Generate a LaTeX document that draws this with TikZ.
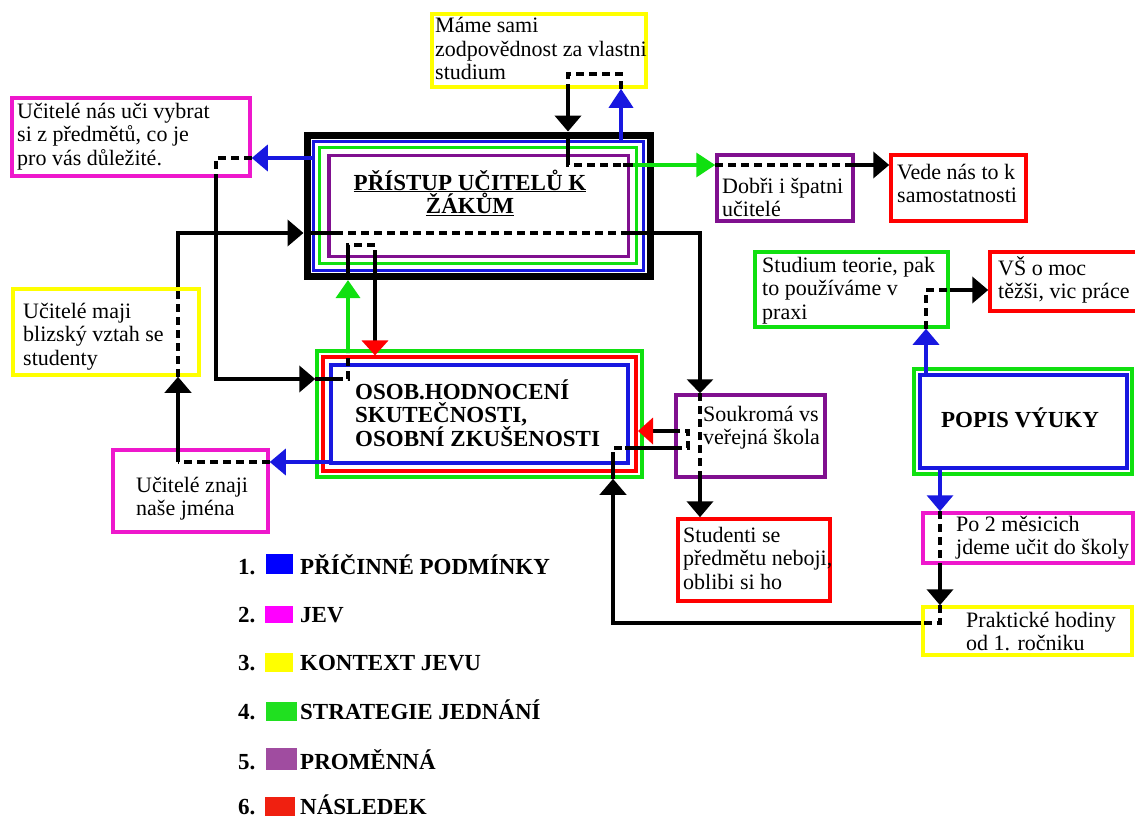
\documentclass[tikz,border=0pt]{standalone}
\usepackage{fontspec}
\setmainfont{Liberation Serif}
\usetikzlibrary{arrows.meta}

% line colours of the boxes and connectors
\definecolor{cBlue}{HTML}{1818E0}
\definecolor{cMag}{HTML}{EE18CC}
\definecolor{cYel}{HTML}{FFFF00}
\definecolor{cGrn}{HTML}{10E010}
\definecolor{cPur}{HTML}{80108F}
\definecolor{cRed}{HTML}{FF0000}
% legend swatches
\definecolor{lBlue}{HTML}{0000FF}
\definecolor{lMag}{HTML}{FF00FF}
\definecolor{lYel}{HTML}{FFFF00}
\definecolor{lGrn}{HTML}{20E020}
\definecolor{lPur}{HTML}{A04CA0}
\definecolor{lRed}{HTML}{F02010}

% stacked lines, baseline on the first line
\newcommand{\lns}[1]{\vtop{\lineskiplimit=-50pt\halign{##\hfil\cr#1\crcr}}}
\newcommand{\clns}[1]{\vtop{\lineskiplimit=-50pt\halign{\hfil##\hfil\cr#1\crcr}}}

\tikzset{
  bx/.style={draw, line width=3.5pt, minimum width=#1},
  txt/.style={inner sep=0pt, font=\fontsize{22}{23.6}\selectfont},
  hd/.style={inner sep=0pt, font=\fontsize{23}{23.6}\selectfont\bfseries},
  lgd/.style={inner sep=0pt, font=\fontsize{23}{23.6}\selectfont\bfseries},
  blk/.style={line width=4pt, black},
  dsh/.style={line width=4pt, black, dash pattern=on 8pt off 5pt},
  bln/.style={line width=3.5pt, cBlue},
  gln/.style={line width=3.5pt, cGrn},
  arr/.style={-{Triangle[width=26pt,length=16pt]}},
  redarr/.style={-{Triangle[width=26pt,length=15pt,color=cRed]}},
}

\begin{document}
\begin{tikzpicture}[x=1pt,y=-1pt]
\fill[white] (0,0) rectangle (1135,817);
\useasboundingbox (0,0) rectangle (1135,817);

% ---------- boxes ----------
\node[bx=214, draw=cYel, minimum height=73] (resp) at (539,50.5) {};
\node[bx=238, draw=cMag, minimum height=78] (pick) at (131,137) {};
\node[bx=186, draw=cYel, minimum height=86] (close) at (106,332) {};
\node[bx=155, draw=cMag, minimum height=82] (names) at (190.5,491) {};

\node[bx=343, draw=black, line width=7pt, minimum height=141.5] (mainK) at (478.5,205.8) {};
\node[bx=330.5, draw=cBlue, line width=3pt, minimum height=129] (mainB) at (478.7,205.5) {};
\node[bx=317.5, draw=cGrn, line width=3pt, minimum height=116] (mainG) at (478.2,205) {};
\node[bx=299.5, draw=cPur, line width=3.5pt, minimum height=101] (mainP) at (478.7,206) {};

\node[bx=325, draw=cGrn, line width=3.5pt, minimum height=126] (osobG) at (479.5,414) {};
\node[bx=313, draw=cRed, line width=4pt, minimum height=113.5] (osobR) at (479.5,414.2) {};
\node[bx=297, draw=cBlue, line width=3.5pt, minimum height=98] (osobB) at (479.5,414) {};

\node[bx=136, draw=cPur, minimum height=66] (dobri) at (785,188) {};
\node[bx=135, draw=cRed, minimum height=66] (vede) at (958.5,188) {};
\node[bx=193, draw=cGrn, minimum height=75] (stud) at (851.5,289.5) {};
\node[bx=150, draw=cRed, minimum height=59] (vs) at (1065,281.5) {};
\node[bx=218, draw=cGrn, minimum height=105] (popisG) at (1023,421.5) {};
\node[bx=207, draw=cBlue, minimum height=93] (popisB) at (1023.5,421.5) {};
\node[bx=210, draw=cMag, minimum height=50] (po2) at (1028,538) {};
\node[bx=209, draw=cYel, minimum height=48] (prakt) at (1027.5,631) {};
\node[bx=149, draw=cPur, minimum height=82] (soukr) at (750.5,436) {};
\node[bx=152, draw=cRed, minimum height=82] (studenti) at (754,560) {};

% ---------- connectors ----------
% teachers' approach -> choosing subjects
\draw[bln, arr] (mainB.west |- 0,158) -- (pick.east |- 0,158);
\draw[dsh] (pick.east |- 0,158) -- (216,158) -- (pick.south -| 216,0);
\draw[blk, arr] (pick.south -| 216,0) -- (216,379) -- (osobG.west |- 0,379);
\draw[blk] (osobG.west |- 0,379) -- (335,379);
\draw[dsh] (335,379) -- (348,379) -- (348,353);
\draw[gln, -{Triangle[width=24pt,length=18pt]}] (348,351) -- (mainK.south -| 348,0);
\draw[blk] (mainK.south -| 348,0) -- (348,252);
\draw[dsh] (348,252) -- (348,245) -- (375,245) -- (375,252);
\draw[blk, redarr] (375,252) -- (osobR.north -| 375,0);

% responsibility loop at the top
\draw[bln, -{Triangle[width=24pt,length=19pt]}] (mainB.north -| 621,0) -- (resp.south -| 621,0);
\draw[dsh] (resp.south -| 621,0) -- (621,74) -- (568,74) -- (resp.south -| 568,0);
\draw[blk, arr] (resp.south -| 568,0) -- (mainK.north -| 568,0);
\draw[blk] (mainK.north -| 568,0) -- (568,158);
\draw[dsh] (568,158) -- (568,165) -- (623,165);
\draw[blk] (623,165) -- (633,165);
\draw[gln, -{Triangle[width=24pt,length=19pt]}] (633,165) -- (dobri.west |- 0,165);
\draw[dsh] (dobri.west |- 0,165) -- (847,165);
\draw[blk, arr] (847,165) -- (vede.west |- 0,165);

% close relationship -> approach -> school type -> students
\draw[dsh] (close.south -| 178,0) -- (close.north -| 178,0);
\draw[blk, arr] (close.north -| 178,0) -- (178,233) -- (mainK.west |- 0,233);
\draw[blk] (mainK.west |- 0,233) -- (335,233);
\draw[dsh] (335,233) -- (623,233);
\draw[blk, -{Triangle[width=26pt,length=14pt]}] (623,233) -- (700,233) -- (soukr.north -| 700,0);
\draw[dsh] (soukr.north -| 700,0) -- (soukr.south -| 700,0);
\draw[blk, arr] (soukr.south -| 700,0) -- (studenti.north -| 700,0);

% personal evaluation -> teachers know names -> close relationship
\draw[bln, arr] (osobB.west |- 0,462) -- (names.east |- 0,462);
\draw[dsh] (names.east |- 0,462) -- (178,462);
\draw[blk, arr] (178,462) -- (close.south -| 178,0);

% teaching description -> theory -> harder
\draw[bln, arr] (popisB.north -| 926,0) -- (stud.south -| 926,0);
\draw[dsh] (stud.south -| 926,0) -- (926,290) -- (stud.east |- 0,290);
\draw[blk, arr] (stud.east |- 0,290) -- (vs.west |- 0,290);

% teaching description -> practice -> personal evaluation
\draw[bln, arr] (popisB.south -| 940,0) -- (po2.north -| 940,0);
\draw[dsh] (po2.north -| 940,0) -- (po2.south -| 940,0);
\draw[blk, arr] (po2.south -| 940,0) -- (prakt.north -| 940,0);
\draw[dsh] (prakt.north -| 940,0) -- (940,623) -- (prakt.west |- 0,623);
\draw[blk, arr] (prakt.west |- 0,623) -- (613,623) -- (osobG.south -| 613,0);
\draw[blk] (osobG.south -| 613,0) -- (613,460);
\draw[dsh] (613,460) -- (613,448) -- (625,448);
\draw[blk] (625,448) -- (soukr.west |- 0,448);
\draw[dsh] (soukr.west |- 0,448) -- (688,448) -- (688,431) -- (soukr.west |- 0,431);
\draw[blk, redarr] (soukr.west |- 0,431) -- (osobR.east |- 0,431);

% ---------- texts ----------
\node[txt, anchor=base west] (tResp) at (435,32.7) {\lns{Máme sami\cr zodpovědnost za vlastni\cr studium}};
\node[txt, anchor=base west] (tPick) at (17,118) {\lns{Učitelé nás uči vybrat\cr si z předmětů, co je\cr pro vás důležité.}};
\node[txt, anchor=base west] (tClose) at (23,318) {\lns{Učitelé maji\cr blizský vztah se\cr studenty}};
\node[txt, anchor=base west] (tNames) at (136,492) {\lns{Učitelé znaji\cr naše jména}};
\node[hd, anchor=base] (tMain) at (470,190) {\clns{\underline{PŘÍSTUP UČITELŮ K}\cr \underline{ŽÁKŮM}}};
\node[hd, anchor=base west] (tOsob) at (355,399) {\lns{OSOB.HODNOCENÍ\cr SKUTEČNOSTI,\cr OSOBNÍ ZKUŠENOSTI}};
\node[txt, anchor=base west] (tDobri) at (722,193) {\lns{Dobři i špatni\cr učitelé}};
\node[txt, anchor=base west] (tVede) at (897,179) {\lns{Vede nás to k\cr samostatnosti}};
\node[txt, anchor=base west] (tStud) at (762,272) {\lns{Studium teorie, pak\cr to používáme v\cr praxi}};
\node[txt, anchor=base west] (tVs) at (998,275) {\lns{VŠ o moc\cr těžši, vic práce}};
\node[hd, anchor=base] (tPopis) at (1020,427) {POPIS VÝUKY};
\node[txt, anchor=base west] (tPo2) at (956,531) {\lns{Po 2 měsicich\cr jdeme učit do školy}};
\node[txt, anchor=base west] (tPrakt) at (966,627) {\lns{Praktické hodiny\cr od 1. ročniku}};
\node[txt, anchor=base west] (tSoukr) at (703,421) {\lns{Soukromá vs\cr veřejná škola}};
\node[txt, anchor=base west] (tStudenti) at (683,542) {\lns{Studenti se\cr předmětu neboji,\cr oblibi si ho}};

% ---------- legend ----------
\fill[lBlue] (266,554) rectangle (293,574);
\fill[lMag]  (265,606) rectangle (293,623);
\fill[lYel]  (265,653) rectangle (293,672);
\fill[lGrn]  (266,702) rectangle (297,721);
\fill[lPur]  (266,748) rectangle (297,770);
\fill[lRed]  (265,797) rectangle (295,816);
\node[lgd, anchor=base west] (n1) at (238,574) {1.};
\node[lgd, anchor=base west] (n2) at (238,622.7) {2.};
\node[lgd, anchor=base west] (n3) at (238,670.7) {3.};
\node[lgd, anchor=base west] (n4) at (238,719.3) {4.};
\node[lgd, anchor=base west] (n5) at (238,769) {5.};
\node[lgd, anchor=base west] (n6) at (238,814) {6.};
\node[lgd, anchor=base west] (k1) at (300,574) {PŘÍČINNÉ PODMÍNKY};
\node[lgd, anchor=base west] (k2) at (300,622.7) {JEV};
\node[lgd, anchor=base west] (k3) at (300,670.7) {KONTEXT JEVU};
\node[lgd, anchor=base west] (k4) at (300,719.3) {STRATEGIE JEDNÁNÍ};
\node[lgd, anchor=base west] (k5) at (300,769) {PROMĚNNÁ};
\node[lgd, anchor=base west] (k6) at (300,814) {NÁSLEDEK};
\end{tikzpicture}
\end{document}
